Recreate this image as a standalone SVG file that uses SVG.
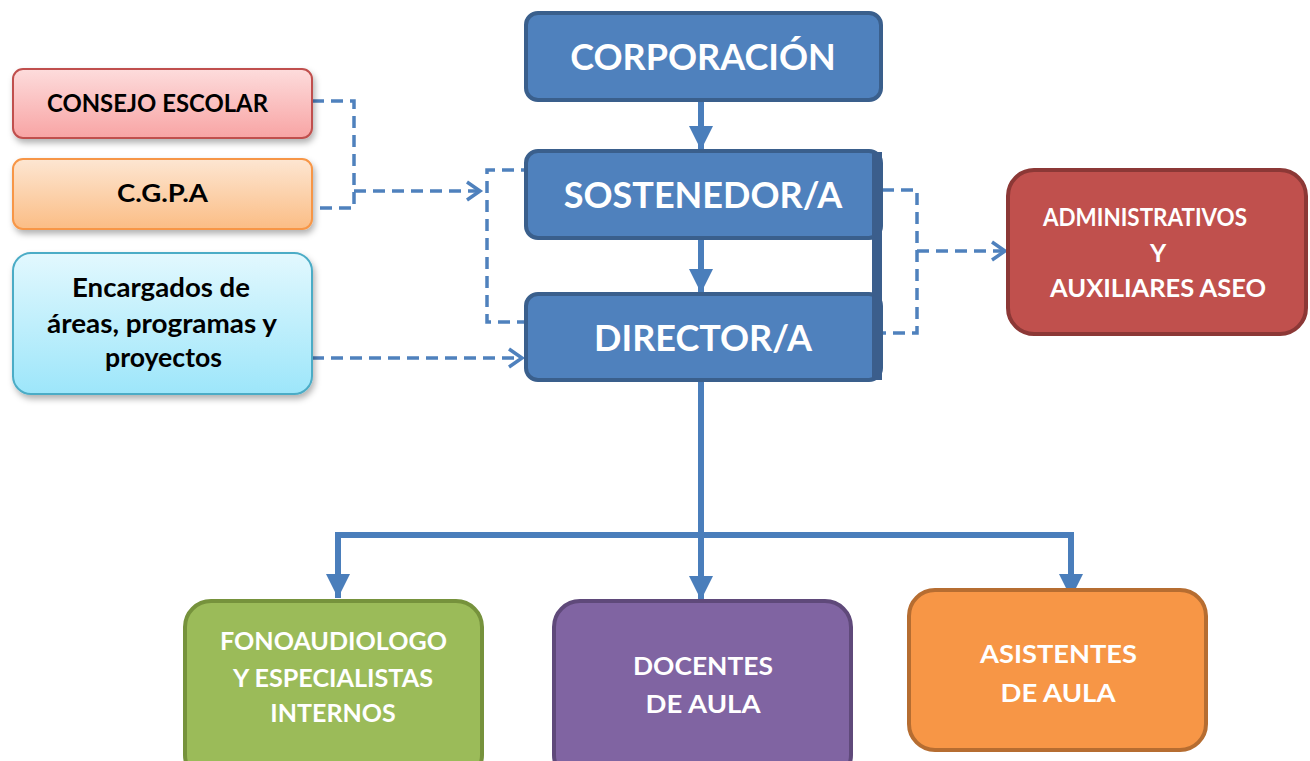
<svg xmlns="http://www.w3.org/2000/svg" width="1310" height="761" viewBox="0 0 1310 761">
<style>
.t{font-family:Lato,"Open Sans","Liberation Sans",sans-serif;font-weight:bold;text-anchor:middle}
.big{font-size:36px;fill:#fff}
.sm{font-size:24px;fill:#000}
.lc{font-size:26px;fill:#000}
.wh{font-size:25px;fill:#fff}
.blue{fill:#4f81bd;stroke:#3a5f8c;stroke-width:4}
.dash{fill:none;stroke:#4f81bd;stroke-width:3.5;stroke-dasharray:12 7}
.solid{fill:none;stroke:#4a7ebb;stroke-width:6}
</style>
<defs>
<linearGradient id="gPink" x1="0" y1="0" x2="0" y2="1"><stop offset="0" stop-color="#fddcdc"/><stop offset="1" stop-color="#f8a4a4"/></linearGradient>
<linearGradient id="gOr" x1="0" y1="0" x2="0" y2="1"><stop offset="0" stop-color="#fde6d2"/><stop offset="1" stop-color="#fbbd85"/></linearGradient>
<linearGradient id="gCy" x1="0" y1="0" x2="0" y2="1"><stop offset="0" stop-color="#e2f8fe"/><stop offset="1" stop-color="#9de6fa"/></linearGradient>
<filter id="sh" x="-10%" y="-10%" width="120%" height="130%"><feDropShadow dx="2" dy="4" stdDeviation="3" flood-color="#000" flood-opacity="0.3"/></filter>
<marker id="open" markerWidth="30" markerHeight="30" refX="0" refY="0" markerUnits="userSpaceOnUse" orient="auto" overflow="visible"><path d="M-13,-9 L0,0 L-13,9" fill="none" stroke="#4f81bd" stroke-width="3.5"/></marker>
<marker id="tri" viewBox="0 0 24 24" refX="24" refY="12" markerWidth="24" markerHeight="24" markerUnits="userSpaceOnUse" orient="auto"><path d="M0,0 L24,12 L0,24 Z" fill="#4a7ebb"/></marker>
</defs>

<g id="connectors">
<path class="dash" d="M312,101 H354 V208 H312"/>
<path class="dash" d="M354,191 H480" marker-end="url(#open)"/>
<path class="dash" d="M533,170 H487 V322 H533"/>
<path class="dash" d="M312,358 H522" marker-end="url(#open)"/>
<path class="dash" d="M882,190 H917 V333 H882"/>
<path class="dash" d="M917,251 H1005" marker-end="url(#open)"/>
<path class="solid" d="M701,101 V150" marker-end="url(#tri)"/>
<path class="solid" d="M701,240 V293" marker-end="url(#tri)"/>
<path class="solid" d="M701,380 V600" marker-end="url(#tri)"/>
<path class="solid" d="M338,535 H1071"/>
<path class="solid" d="M338,532 V598" marker-end="url(#tri)"/>
<path class="solid" d="M1071,532 V598" marker-end="url(#tri)"/>
</g>

<g id="corporacion">
<rect class="blue" x="526" y="13" width="355" height="87" rx="12"/>
<text class="t big" x="703" y="70">CORPORACIÓN</text>
</g>
<g id="sostenedor">
<rect class="blue" x="526" y="151" width="355" height="87" rx="12"/>
<text class="t big" x="703" y="208">SOSTENEDOR/A</text>
</g>
<g id="director">
<rect class="blue" x="526" y="294" width="355" height="86" rx="12"/>
<text class="t big" x="703" y="351">DIRECTOR/A</text>
</g>
<rect x="872" y="152" width="10" height="228" fill="#3b5e8c"/>

<g id="consejo">
<rect x="13" y="69" width="299" height="69" rx="10" fill="url(#gPink)" stroke="#c0504d" stroke-width="2" filter="url(#sh)"/>
<text class="t sm" x="157.5" y="112" textLength="221" lengthAdjust="spacingAndGlyphs">CONSEJO ESCOLAR</text>
</g>
<g id="cgpa">
<rect x="13" y="159" width="299" height="70" rx="10" fill="url(#gOr)" stroke="#f79646" stroke-width="2" filter="url(#sh)"/>
<text class="t sm" x="162.5" y="202" textLength="91" lengthAdjust="spacingAndGlyphs">C.G.P.A</text>
</g>
<g id="encargados">
<rect x="13" y="253" width="299" height="141" rx="18" fill="url(#gCy)" stroke="#4bacc6" stroke-width="2" filter="url(#sh)"/>
<text class="t lc" x="161" y="297" textLength="178" lengthAdjust="spacingAndGlyphs">Encargados de</text>
<text class="t lc" x="162" y="333" textLength="230" lengthAdjust="spacingAndGlyphs">áreas, programas y</text>
<text class="t lc" x="163.5" y="367" textLength="117" lengthAdjust="spacingAndGlyphs">proyectos</text>
</g>

<g id="administrativos">
<rect x="1008" y="170" width="298" height="164" rx="26" fill="#c0504d" stroke="#8c3836" stroke-width="4"/>
<text class="t wh" x="1145" y="226" textLength="204" lengthAdjust="spacingAndGlyphs">ADMINISTRATIVOS</text>
<text class="t wh" x="1158" y="262">Y</text>
<text class="t wh" x="1158" y="297" textLength="216" lengthAdjust="spacingAndGlyphs">AUXILIARES ASEO</text>
</g>

<g id="fonoaudiologo">
<rect x="185" y="601" width="297" height="180" rx="26" fill="#9bbb59" stroke="#76923c" stroke-width="4"/>
<text class="t wh" x="333.5" y="650" textLength="227" lengthAdjust="spacingAndGlyphs">FONOAUDIOLOGO</text>
<text class="t wh" x="333" y="687" textLength="200" lengthAdjust="spacingAndGlyphs">Y ESPECIALISTAS</text>
<text class="t wh" x="333" y="722">INTERNOS</text>
</g>
<g id="docentes">
<rect x="554" y="601" width="297" height="180" rx="26" fill="#8064a2" stroke="#5f497a" stroke-width="4"/>
<text class="t wh" x="703" y="675" textLength="140" lengthAdjust="spacingAndGlyphs">DOCENTES</text>
<text class="t wh" x="703" y="713" textLength="115" lengthAdjust="spacingAndGlyphs">DE AULA</text>
</g>
<g id="asistentes">
<rect x="909" y="590" width="297" height="160" rx="26" fill="#f79646" stroke="#b66d31" stroke-width="4"/>
<text class="t wh" x="1058.5" y="663" textLength="157" lengthAdjust="spacingAndGlyphs">ASISTENTES</text>
<text class="t wh" x="1058" y="702" textLength="115" lengthAdjust="spacingAndGlyphs">DE AULA</text>
</g>
</svg>
